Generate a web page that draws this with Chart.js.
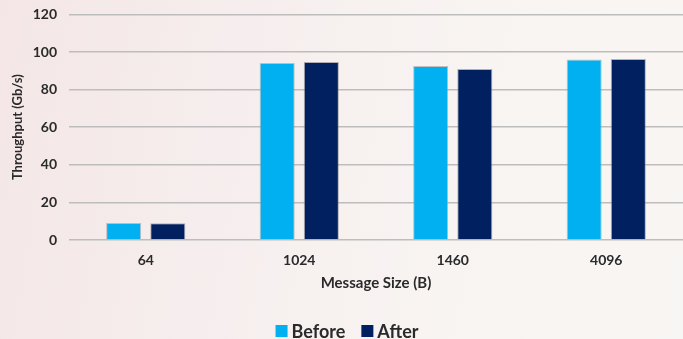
<!DOCTYPE html>
<html>
<head>
<meta charset="utf-8">
<script src="https://cdn.jsdelivr.net/npm/chart.js@4/dist/chart.umd.min.js"></script>
<style>
  html, body { margin: 0; padding: 0; }
  body {
    width: 683px; height: 339px; overflow: hidden;
    background: linear-gradient(100deg, #f4e6e6 0%, #f6eeee 35%, #f8f4f2 65%, #f8f6f4 100%);
  }
  #wrap { position: relative; width: 683px; height: 339px; overflow: hidden; }
  #c { position: absolute; left: 0; top: -6px; }
</style>
</head>
<body>
<div id="wrap"><canvas id="c" width="683" height="345"></canvas></div>
<script>
// Message sizes in bytes and measured throughput in Gb/s
const categories = ['64', '1024', '1460', '4096'];
const beforeValues = [9, 94.2, 92.6, 96.0];
const afterValues = [8.9, 94.7, 91.0, 96.3];
const yTicks = [0, 20, 40, 60, 80, 100, 120];

const FONT = 'Lato, "Open Sans", "Noto Sans", sans-serif';
const TEXT = '#2a2a2a';

// Legend drawn centred under the axis title, one square swatch per dataset
const bottomLegend = {
  id: 'bottomLegend',
  afterDraw(chart) {
    const ctx = chart.ctx;
    const sets = chart.data.datasets;
    const box = 12, gap = 4, spacing = 16, y = 337;
    ctx.save();
    ctx.font = 'bold 18px ' + FONT;
    ctx.textBaseline = 'middle';
    const widths = sets.map(d => box + gap + ctx.measureText(d.label).width);
    const total = widths.reduce((a, b) => a + b, 0) + spacing * (sets.length - 1);
    let x = (chart.chartArea.left + chart.chartArea.right) / 2 - total / 2 - 29;
    sets.forEach((d, i) => {
      ctx.fillStyle = d.backgroundColor;
      ctx.fillRect(x, y - box / 2, box, box);
      ctx.fillStyle = TEXT;
      ctx.textAlign = 'left';
      ctx.fillText(d.label, x + box + gap, y + 1);
      x += widths[i] + spacing;
    });
    ctx.restore();
  }
};

new Chart(document.getElementById('c'), {
  type: 'bar',
  data: {
    labels: categories,
    datasets: [
      {
        label: 'Before',
        data: beforeValues,
        backgroundColor: '#00b0f0',
        borderColor: 'rgba(150,150,150,0.55)',
        borderWidth: 1,
        categoryPercentage: 0.575,
        barPercentage: 0.795
      },
      {
        label: 'After',
        data: afterValues,
        backgroundColor: '#002060',
        borderColor: 'rgba(120,120,130,0.55)',
        borderWidth: 1,
        categoryPercentage: 0.575,
        barPercentage: 0.795
      }
    ]
  },
  plugins: [bottomLegend],
  options: {
    responsive: false,
    animation: false,
    devicePixelRatio: 1,
    layout: { padding: { top: 3, right: 0, left: 0, bottom: 47 } },
    plugins: {
      tooltip: { enabled: false },
      legend: { display: false }
    },
    scales: {
      x: {
        grid: { display: false, drawTicks: false },
        border: { display: false },
        ticks: {
          color: TEXT,
          padding: 12,
          font: { family: FONT, size: 14, weight: 'bold' }
        },
        title: {
          display: true,
          text: 'Message Size (B)',
          color: TEXT,
          padding: { top: 4, bottom: 0 },
          font: { family: FONT, size: 15, weight: 'bold' }
        },
        afterFit(scale) { scale.height = 52; }
      },
      y: {
        min: 0,
        max: 120,
        afterBuildTicks(scale) { scale.ticks = yTicks.map(v => ({ value: v })); },
        grid: { color: '#bdbdbd', lineWidth: 1.6, drawTicks: false },
        border: { display: false },
        ticks: {
          color: TEXT,
          padding: 12,
          font: { family: FONT, size: 14, weight: 'bold' }
        },
        title: {
          display: true,
          text: 'Throughput (Gb/s)',
          color: TEXT,
          padding: { top: 10, bottom: 0 },
          font: { family: FONT, size: 13, weight: 'bold' }
        },
        afterFit(scale) { scale.width = 69; }
      }
    }
  }
});
</script>
</body>
</html>
